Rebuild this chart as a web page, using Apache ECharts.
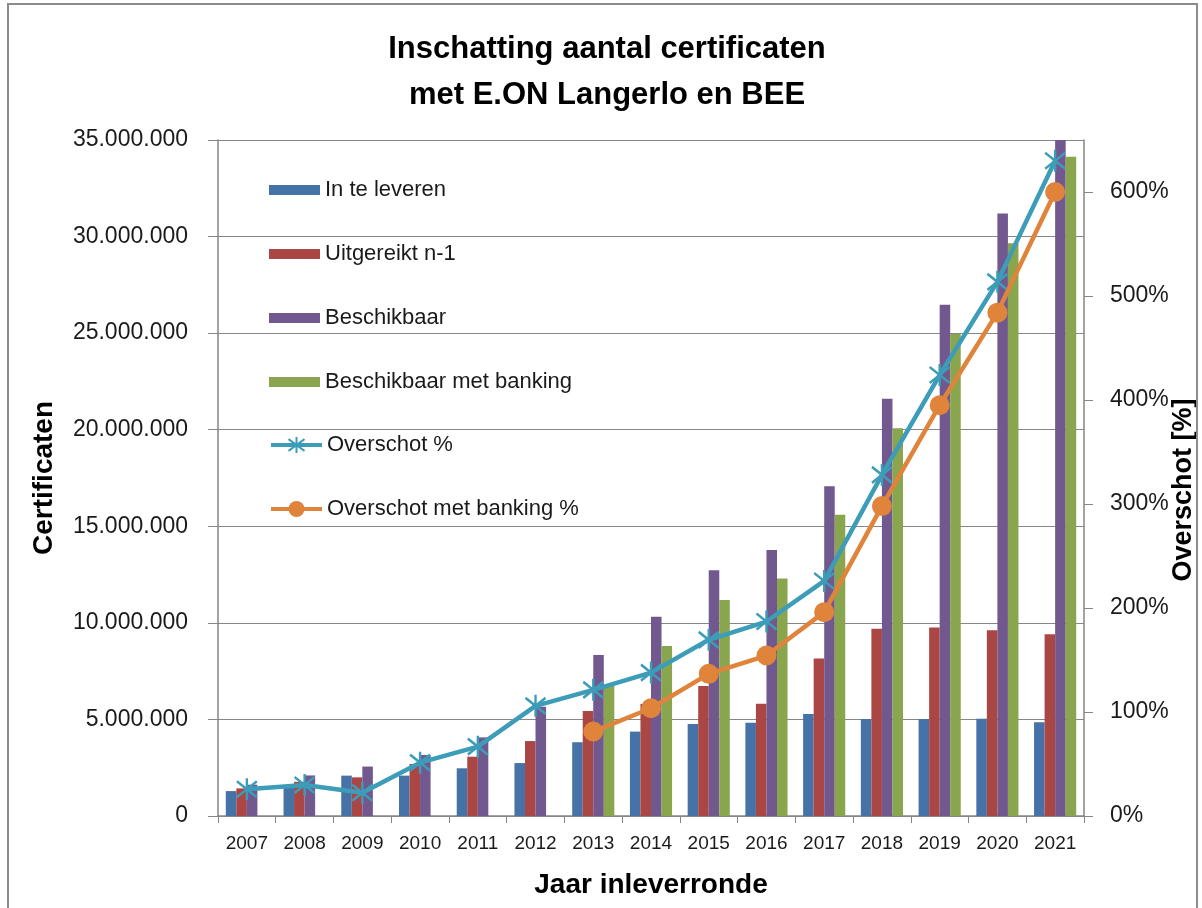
<!DOCTYPE html>
<html>
<head>
<meta charset="utf-8">
<script src="https://cdn.jsdelivr.net/npm/echarts@6/dist/echarts.min.js"></script>
<style>
  html, body { margin: 0; padding: 0; background: #fff; }
  #chart { width: 1202px; height: 908px; }
</style>
</head>
<body>
<div id="chart"></div>
<script>
// ---- Data ----
const years = ['2007','2008','2009','2010','2011','2012','2013','2014','2015','2016','2017','2018','2019','2020','2021'];
const inTeLeveren = [1290000, 1600000, 2090000, 2090000, 2470000, 2740000, 3820000, 4370000, 4760000, 4830000, 5280000, 5020000, 5020000, 5040000, 4860000];
const uitgereikt = [1430000, 1770000, 2000000, 2690000, 3070000, 3880000, 5440000, 5800000, 6730000, 5810000, 8150000, 9690000, 9760000, 9620000, 9410000];
const beschikbaar = [1620000, 2100000, 2560000, 3160000, 4070000, 5650000, 8340000, 10320000, 12720000, 13770000, 17070000, 21600000, 26470000, 31200000, 35500000];
const beschikbaarBanking = [null, null, null, null, null, null, 6780000, 8800000, 11180000, 12300000, 15600000, 20080000, 24960000, 29650000, 34130000];
const overschot = [25.7, 29.8, 22.4, 51.3, 66.7, 105.9, 121.3, 137.9, 169.4, 187, 226, 328, 424, 513.6, 630];
const overschotBanking = [null, null, null, null, null, null, 81.2, 103.6, 136.7, 154.3, 196, 298, 395, 484, 600];
const pctTicks = [0, 100, 200, 300, 400, 500, 600];

const barNames = ['In te leveren', 'Uitgereikt n-1', 'Beschikbaar', 'Beschikbaar met banking'];
const lineNames = ['Overschot %', 'Overschot met banking %'];

const FONT = '"Liberation Sans", Arial, sans-serif';
const GRAY = '#868686';
const TXT = '#1a1a1a';

function dotted(v) {
  return String(Math.round(v)).replace(/\B(?=(\d{3})+(?!\d))/g, '.');
}

const starPath = 'path://M10,0L10,22M0,3L20,19M0,19L20,3';

const chart = echarts.init(document.getElementById('chart'), null, { renderer: 'canvas' });
chart.setOption({
  animation: false,
  backgroundColor: '#ffffff',
  textStyle: { fontFamily: FONT },
  title: {
    text: 'Inschatting aantal certificaten\nmet E.ON Langerlo en BEE',
    left: 607,
    top: 26,
    textAlign: 'center',
    padding: 0,
    textStyle: { fontFamily: FONT, fontSize: 31, fontWeight: 'bold', color: '#000', lineHeight: 46 }
  },
  graphic: [{
    type: 'rect',
    shape: { x: 8, y: 4, width: 1189, height: 1000 },
    style: { fill: 'none', stroke: '#8c8c8c', lineWidth: 2 },
    silent: true, z: 100
  }],
  legend: [{
    orient: 'vertical',
    left: 269,
    top: 179,
    itemWidth: 51,
    itemHeight: 10,
    itemGap: 42,
    padding: 0,
    icon: 'rect',
    textStyle: { fontFamily: FONT, fontSize: 22, color: TXT, lineHeight: 22 },
    data: barNames
  }, {
    orient: 'vertical',
    left: 269,
    top: 434,
    itemWidth: 51,
    itemHeight: 20,
    itemGap: 42,
    padding: 0,
    lineStyle: { width: 4 },
    textStyle: { fontFamily: FONT, fontSize: 22, color: TXT, lineHeight: 22 },
    data: lineNames
  }],
  grid: { left: 218, right: 118, top: 140, bottom: 92, containLabel: false, outerBoundsMode: 'none' },
  xAxis: {
    type: 'category',
    data: years,
    name: 'Jaar inleverronde',
    nameLocation: 'middle',
    nameGap: 55,
    nameMoveOverlap: false,
    nameTextStyle: { fontFamily: FONT, fontSize: 28, fontWeight: 'bold', color: '#000' },
    axisLine: { lineStyle: { color: GRAY, width: 1.5 } },
    axisTick: { show: true, length: 7, lineStyle: { color: GRAY } },
    axisLabel: { fontFamily: FONT, fontSize: 19, color: TXT, margin: 18, interval: 0 },
    splitLine: { show: false }
  },
  yAxis: [{
    type: 'value',
    min: 0, max: 35000000, interval: 5000000,
    name: 'Certificaten',
    nameLocation: 'middle',
    nameGap: 160,
    nameMoveOverlap: false,
    nameTextStyle: { fontFamily: FONT, fontSize: 28, fontWeight: 'bold', color: '#000' },
    axisLine: { show: true, lineStyle: { color: GRAY, width: 1.5 } },
    axisTick: { show: true, length: 10, lineStyle: { color: GRAY } },
    axisLabel: { fontFamily: FONT, fontSize: 23, color: TXT, margin: 30, formatter: v => dotted(v) },
    splitLine: { show: true, lineStyle: { color: GRAY, width: 1.2 } }
  }, {
    type: 'value',
    min: 0, max: 650,
    position: 'right',
    name: 'Overschot [%]',
    nameLocation: 'middle',
    nameGap: 86,
    nameMoveOverlap: false,
    nameTextStyle: { fontFamily: FONT, fontSize: 27, fontWeight: 'bold', color: '#000', padding: [0, 24, 0, 0] },
    axisLine: { show: true, lineStyle: { color: GRAY, width: 1.5 } },
    axisTick: { show: true, length: 9, lineStyle: { color: GRAY }, customValues: pctTicks },
    axisLabel: { fontFamily: FONT, fontSize: 23, color: TXT, margin: 26, customValues: pctTicks, formatter: v => v + '%' },
    splitLine: { show: false }
  }],
  series: [
    { name: barNames[0], type: 'bar', data: inTeLeveren, barGap: '0%', barCategoryGap: '27%', itemStyle: { color: '#4572A7' } },
    { name: barNames[1], type: 'bar', data: uitgereikt, barGap: '0%', barCategoryGap: '27%', itemStyle: { color: '#AA4643' } },
    { name: barNames[2], type: 'bar', data: beschikbaar, barGap: '0%', barCategoryGap: '27%', itemStyle: { color: '#71588F' } },
    { name: barNames[3], type: 'bar', data: beschikbaarBanking, barGap: '0%', barCategoryGap: '27%', itemStyle: { color: '#89A54E' } },
    {
      name: lineNames[0], type: 'line', yAxisIndex: 1, data: overschot,
      symbol: starPath, symbolSize: [20, 22],
      lineStyle: { color: '#3D9DB8', width: 4.5 },
      itemStyle: { color: '#3D9DB8', borderColor: '#3D9DB8', borderWidth: 2.5 },
      z: 5
    },
    {
      name: lineNames[1], type: 'line', yAxisIndex: 1, data: overschotBanking,
      symbol: 'circle', symbolSize: 20,
      lineStyle: { color: '#E0843C', width: 4.5 },
      itemStyle: { color: '#E0843C', borderWidth: 0 },
      z: 6
    }
  ]
});
</script>
</body>
</html>
